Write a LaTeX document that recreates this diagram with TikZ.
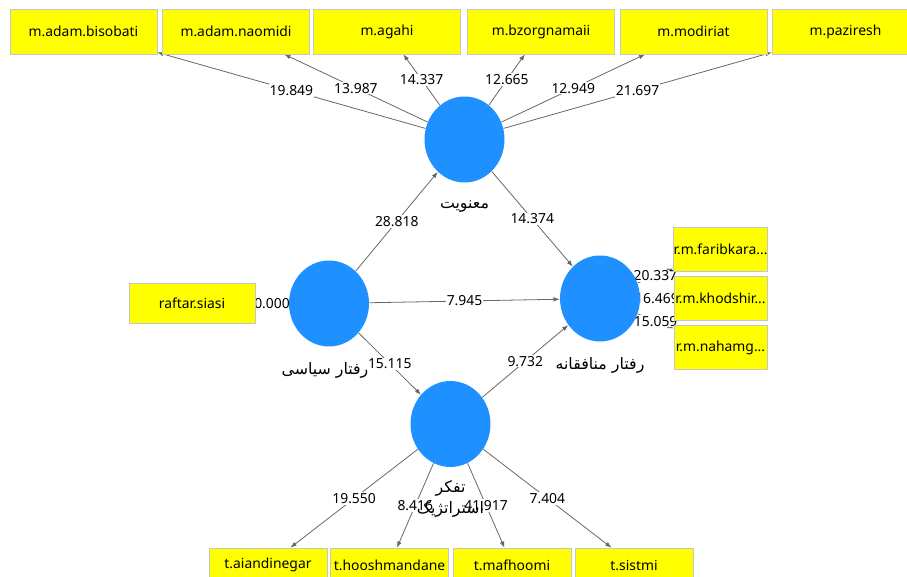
\documentclass[tikz,border=0pt]{standalone}
\usepackage{fontspec}
\setmainfont{Noto Sans}
\newfontfamily\arabicfont[Script=Arabic]{DejaVu Sans}
\TeXXeTstate=1
\usetikzlibrary{shapes.geometric,arrows.meta,positioning}
\definecolor{plsblue}{HTML}{1E90FF}
\definecolor{plsyellow}{HTML}{FFFF00}
\pgfdeclarelayer{background}
\pgfsetlayers{background,main}
\newcommand{\numfont}{\fontsize{7.9}{9}\selectfont}
\newcommand{\fa}[1]{{\arabicfont\beginR #1\endR}}

\tikzset{
  lv/.style={ellipse, fill=plsblue, minimum width=1.6cm, minimum height=1.72cm, inner sep=0pt},
  lvname/.style={font=\fontsize{9}{12}\selectfont, inner sep=0pt, align=center},
  ind/.style={draw=gray!45, fill=plsyellow, minimum width=2.94cm, minimum height=0.9cm, inner sep=0pt, font=\numfont},
  link/.style={draw=black!60, line width=0.45pt, -{Latex[length=3.5pt,width=2.6pt]}},
  val/.style={fill=white, inner sep=0.6pt, font=\numfont, midway}
}

\begin{document}
\begin{tikzpicture}[x=0.02cm, y=-0.02cm]
            \useasboundingbox (0,0) rectangle (907,577);
            % latent variables
            \node[lv] (MV) at (464.5,139.5) {};
            \node[lv] (RS) at (329,303.5) {};
            \node[lv] (RM) at (600,298.5) {};
            \node[lv] (TE) at (450.5,424) {};
            \node[lvname, below=0.36cm of MV] (MVtxt) {\fa{معنویت}};
            \node[lvname, below=0.3cm of RS, xshift=-0.08cm] (RStxt) {\fa{رفتار سیاسی}};
            \node[lvname, below=0.3cm of RM] (RMtxt) {\fa{رفتار منافقانه}};
            \node[lvname, below=0.26cm of TE] (TEtxt) {\fa{تفکر}\\\fa{استراتژیک}};
            % indicators, top row
            \node[ind] (M1) at (83.5,31.5) {m.adam.bisobati};
            \node[ind] (M2) at (236,31.5) {m.adam.naomidi};
            \node[ind] (M3) at (387,31.5) {m.agahi};
            \node[ind] (M4) at (541,31.5) {m.bzorgnamaii};
            \node[ind] (M5) at (693.5,31.5) {m.modiriat};
            \node[ind] (M6) at (845.5,31.5) {m.paziresh};
            % indicators, left and right
            \node[ind, minimum width=2.52cm, minimum height=0.8cm] (S1) at (192,303) {raftar.siasi};
            \node[ind, minimum width=1.86cm, minimum height=0.88cm] (R1) at (720.5,249) {r.m.faribkara...};
            \node[ind, minimum width=1.86cm, minimum height=0.88cm] (R2) at (720.5,298.5) {r.m.khodshir...};
            \node[ind, minimum width=1.86cm, minimum height=0.88cm] (R3) at (720.5,347.5) {r.m.nahamg...};
            % indicators, bottom row
            \node[ind, minimum width=2.36cm, minimum height=0.68cm] (T1) at (268,565) {t.aiandinegar};
            \node[ind, minimum width=2.36cm, minimum height=0.68cm] (T2) at (389.5,565) {t.hooshmandane};
            \node[ind, minimum width=2.36cm, minimum height=0.68cm] (T3) at (512,565) {t.mafhoomi};
            \node[ind, minimum width=2.36cm, minimum height=0.68cm] (T4) at (634,565) {t.sistmi};
            \begin{pgfonlayer}{background}
            % outer model
            \draw[link] (MV) -- (M1) node[val] {19.849};
            \draw[link] (MV) -- (M2) node[val] {13.987};
            \draw[link] (MV) -- (M3) node[val] {14.337};
            \draw[link] (MV) -- (M4) node[val] {12.665};
            \draw[link] (MV) -- (M5) node[val] {12.949};
            \draw[link] (MV) -- (M6) node[val] {21.697};
            \draw[link] (RS) -- (S1) node[val] {0.000};
            \draw[link] (RM) -- (R1) node[val] {20.337};
            \draw[link] (RM) -- (R2) node[val] {16.469};
            \draw[link] (RM) -- (R3) node[val] {15.059};
            \draw[link] (TE) -- (T1) node[val] {19.550};
            \draw[link] (TE) -- (T2) node[val] {8.416};
            \draw[link] (TE) -- (T3) node[val] {41.917};
            \draw[link] (TE) -- (T4) node[val] {7.404};
            % inner model
            \draw[link] (RS) -- (MV) node[val] {28.818};
            \draw[link] (MV) -- (RM) node[val] {14.374};
            \draw[link] (RS) -- (RM) node[val] {7.945};
            \draw[link] (RS) -- (TE) node[val] {15.115};
            \draw[link] (TE) -- (RM) node[val] {9.732};
            \end{pgfonlayer}
        \end{tikzpicture}
\end{document}
